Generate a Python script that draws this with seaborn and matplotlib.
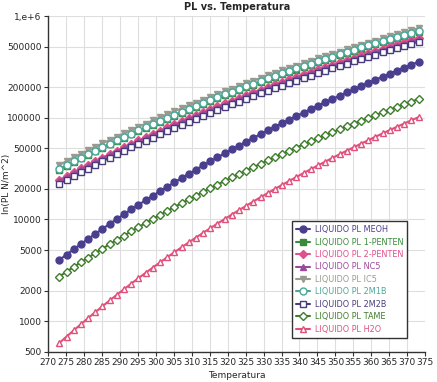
import matplotlib
matplotlib.use("Agg")
import matplotlib.pyplot as plt
import seaborn as sns
import pandas as pd
from matplotlib.ticker import FixedLocator, NullLocator

# Temperatura (K), a point every 2 K
temperatura = [273.15 + 2 * i for i in range(51)]

meoh = [4000, 4518, 5093, 5733, 6442, 7224, 8091, 9049, 10100, 11260,
        12540, 13930, 15460, 17130, 18970, 20960, 23140, 25520, 28100, 30900,
        33940, 37230, 40790, 44660, 48830, 53330, 58190, 63390, 69020, 75060,
        81530, 88510, 95940, 103900, 112500, 121600, 131400, 141800, 152900, 164700,
        177400, 190800, 205000, 220200, 236200, 253300, 271400, 290700, 310900, 332300,
        355000]
penten1 = [31000, 33730, 36670, 39810, 43170, 46750, 50580, 54660, 59000, 63640,
           68550, 73770, 79320, 85190, 91430, 98020, 104980, 112300, 120100, 128300,
           136900, 146000, 155700, 165800, 176400, 187500, 199200, 211400, 224300, 237800,
           251800, 266600, 282000, 298100, 315000, 332500, 350800, 370000, 389900, 410600,
           432200, 454700, 478000, 502400, 527600, 553700, 580900, 609200, 638300, 668600,
           700000]
penten2 = [24500, 26730, 29140, 31720, 34480, 37440, 40620, 44000, 47610, 51480,
           55590, 59960, 64620, 69560, 74830, 80400, 86290, 92500, 99140, 106130,
           113480, 121270, 129570, 138260, 147380, 156960, 167070, 177620, 188790, 200540,
           212720, 225620, 239050, 253150, 267940, 283290, 299370, 316280, 333830, 352090,
           371170, 391130, 411800, 433470, 455850, 479120, 503350, 528670, 554680, 581820,
           610000]
nc5 = [24000, 26170, 28510, 31030, 33720, 36610, 39690, 42990, 46500, 50260,
       54260, 58510, 63040, 67840, 72940, 78360, 84080, 90110, 96550, 103320,
       110450, 118000, 126050, 134460, 143310, 152570, 162370, 172590, 183410, 194760,
       206550, 219010, 232030, 245630, 259940, 274780, 290320, 306660, 323580, 341250,
       359680, 378900, 398890, 419810, 441390, 463830, 487260, 511610, 536750, 562900,
       590000]
ic5 = [34500, 37510, 40750, 44210, 47910, 51850, 56070, 60550, 65320, 70420,
       75800, 81530, 87620, 94040, 100900, 108100, 115700, 123700, 132200, 141200,
       150600, 160500, 171100, 182100, 193600, 205700, 218400, 231700, 245700, 260400,
       275600, 291700, 308400, 325900, 344200, 363200, 383000, 403700, 425300, 447700,
       471100, 495400, 520500, 546900, 574100, 602300, 631600, 662100, 693500, 726200,
       760000]
m2m1b = [31500, 34280, 37280, 40490, 43920, 47570, 51490, 55660, 60100, 64840,
         69870, 75210, 80890, 86900, 93290, 100040, 107170, 114680, 122670, 131080,
         139910, 149240, 159200, 169560, 180460, 191850, 203880, 216410, 229660, 243550,
         257940, 273160, 289020, 305580, 322970, 340980, 359820, 379580, 400120, 421440,
         443700, 466890, 490910, 516070, 542060, 568980, 597050, 626200, 656240, 687520,
         720000]
m2m2b = [22500, 24550, 26760, 29130, 31670, 34390, 37300, 40410, 43720, 47280,
         51050, 55060, 59350, 63880, 68710, 73830, 79240, 84940, 91040, 97460,
         104210, 111350, 118990, 126950, 135330, 144110, 153400, 163100, 173360, 184130,
         195320, 207150, 219510, 232430, 246020, 260110, 274890, 290380, 306500, 323260,
         340790, 359080, 378050, 397950, 418540, 439860, 462160, 485350, 509240, 534140,
         560000]
tame = [2750, 3066, 3414, 3796, 4213, 4670, 5169, 5712, 6306, 6950,
        7649, 8410, 9232, 10120, 11080, 12130, 13250, 14460, 15770, 17170,
        18680, 20290, 22030, 23880, 25870, 27990, 30260, 32680, 35270, 38020,
        40950, 44070, 47380, 50900, 54640, 58600, 62800, 67240, 71940, 76910,
        82170, 87730, 93560, 99750, 106200, 113000, 120300, 127900, 135800, 144200,
        153000]
h2o = [611, 706, 813, 935, 1073, 1228, 1403, 1599, 1818, 2064,
       2339, 2645, 2985, 3363, 3782, 4246, 4759, 5324, 5947, 6632,
       7384, 8208, 9111, 10098, 11175, 12352, 13631, 15022, 16533, 18171,
       19946, 21867, 23943, 26183, 28599, 31201, 34000, 37009, 40239, 43703,
       47414, 51387, 55635, 60173, 65017, 70182, 75684, 81541, 87771, 94390,
       101325]

labels = ["LIQUIDO PL MEOH", "LIQUIDO PL 1-PENTEN", "LIQUIDO PL 2-PENTEN",
          "LIQUIDO PL NC5", "LIQUIDO PL IC5", "LIQUIDO PL 2M1B",
          "LIQUIDO PL 2M2B", "LIQUIDO PL TAME", "LIQUIDO PL H2O"]
series = [meoh, penten1, penten2, nc5, ic5, m2m1b, m2m2b, tame, h2o]
colors = ["#4a3f8f", "#3b8a3b", "#e0508a", "#9a4a9c", "#9a9a90",
          "#4aa898", "#4a3d7c", "#3e7d2c", "#e0507a"]
markers = ["o", "s", "D", "^", "v", "o", "s", "D", "^"]
filled = [True, True, True, True, True, False, False, False, False]

x_ticks = list(range(270, 380, 5))
y_ticks = [500, 1000, 2000, 5000, 10000, 20000, 50000, 100000, 200000, 500000, 1000000]
y_tick_labels = ["500", "1000", "2000", "5000", "10000", "20000", "50000",
                 "100000", "200000", "500000", "1,e+6"]

sns.set_style("white")
plt.rcParams['font.family'] = ['DejaVu Sans']

fig, ax = plt.subplots(figsize=(4.37, 3.82), dpi=100)
fig.subplots_adjust(left=0.110, right=0.973, bottom=0.079, top=0.958)

for lab, vals, col, mk, fl in zip(labels, series, colors, markers, filled):
    df = pd.DataFrame({"T": temperatura, "PL": vals})
    sns.lineplot(data=df, x="T", y="PL", ax=ax, color=col, marker=mk,
                 markersize=5 if mk != "D" else 4.3,
                 markerfacecolor=col if fl else "white",
                 markeredgecolor=col, markeredgewidth=1.0,
                 linewidth=1.5, label=lab)

ax.set_yscale("log")
ax.set_xlim(270, 375)
ax.set_ylim(500, 1000000)
ax.xaxis.set_major_locator(FixedLocator(x_ticks))
ax.yaxis.set_major_locator(FixedLocator(y_ticks))
ax.yaxis.set_minor_locator(NullLocator())
ax.set_yticklabels(y_tick_labels)
ax.tick_params(axis="both", labelsize=6.5, length=3, direction="out",
               left=True, bottom=True, pad=1.5, color="#333333")
ax.grid(True, color="#dedede", linewidth=0.8)

for s in ["top", "right"]:
    ax.spines[s].set_visible(False)
for s in ["left", "bottom"]:
    ax.spines[s].set_color("#333333")
    ax.spines[s].set_linewidth(1.0)

ax.set_title("PL vs. Temperatura", fontsize=7, fontweight="bold", pad=4)
ax.set_xlabel("Temperatura", fontsize=6.5, labelpad=3)
ax.set_ylabel("ln(PL N/m^2)", fontsize=6.5)
ax.yaxis.set_label_coords(-0.098, 0.5)

leg = ax.legend(loc="lower right", bbox_to_anchor=(0.952, 0.042), fontsize=5.9,
                frameon=True, fancybox=False, framealpha=1, edgecolor="#333333",
                handlelength=1.7, labelspacing=0.42, borderpad=0.5,
                handletextpad=0.5, borderaxespad=0)
leg.get_frame().set_linewidth(1.0)
for txt, col in zip(leg.get_texts(), colors):
    txt.set_color(col)

fig.savefig("out.png", dpi=100)
